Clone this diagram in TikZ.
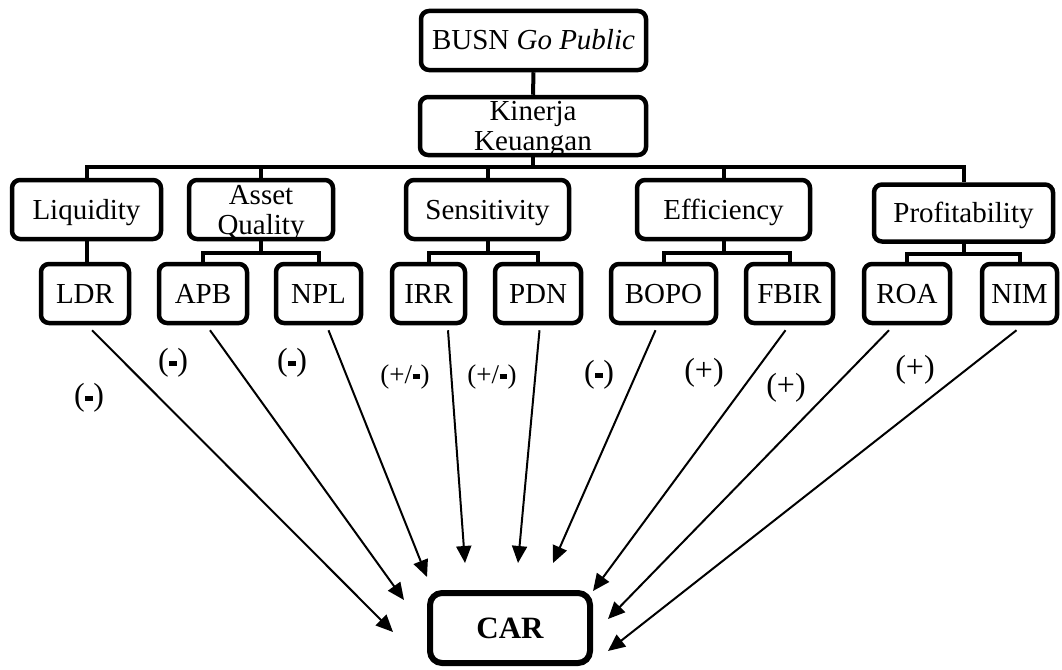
\documentclass[tikz,border=0pt]{standalone}
\usepackage{fontspec}
\setmainfont{Liberation Serif}
\usetikzlibrary{arrows.meta}
\newcommand{\bdash}{\kern0.5pt\rule[4.8pt]{7.5pt}{4.8pt}\kern0.5pt}
\begin{document}
\begin{tikzpicture}[x=1pt,y=-1pt,
  box/.style={draw, line width=4.5pt, rounded corners=8pt, inner sep=0pt, align=center,
              font=\fontsize{29pt}{30pt}\selectfont, text height=19pt, text depth=0pt},
  box2/.style={box, text height=49pt, text depth=0pt},
  carbox/.style={draw, line width=6pt, rounded corners=12pt, inner sep=0pt,
              font=\fontsize{31pt}{31pt}\selectfont\bfseries, text height=21pt, text depth=0pt},
  tree/.style={line width=4pt},
  arr/.style={line width=2pt, -{Triangle[length=17pt,width=15pt]}},
  sign/.style={font=\fontsize{32pt}{32pt}\selectfont, inner sep=0pt},
  signsm/.style={font=\fontsize{27pt}{27pt}\selectfont, inner sep=0pt}]
\useasboundingbox (0,0) rectangle (1062,669);

% top levels
\node[box, minimum width=225pt, minimum height=59pt] (busn) at (533.5,40.5) {BUSN \textit{Go Public}};
\node[box2, minimum width=226pt, minimum height=58pt] (kin) at (533,126) {Kinerja\\Keuangan};

% second level
\node[box, minimum width=149pt, minimum height=59pt] (liq) at (86.5,209.5) {Liquidity};
\node[box2, minimum width=144pt, minimum height=59pt] (aq) at (261,209.5) {Asset\\Quality};
\node[box, minimum width=163pt, minimum height=59pt] (sens) at (487.5,209.5) {Sensitivity};
\node[box, minimum width=173pt, minimum height=59pt] (eff) at (723.5,209.5) {Efficiency};
\node[box, minimum width=179pt, minimum height=57pt] (prof) at (963.5,213) {Profitability};

% third level
\node[box, minimum width=88pt, minimum height=59pt] (ldr) at (85,293.5) {LDR};
\node[box, minimum width=88pt, minimum height=59pt] (apb) at (203,293.5) {APB};
\node[box, minimum width=85pt, minimum height=59pt] (npl) at (318.5,293.5) {NPL};
\node[box, minimum width=73pt, minimum height=59pt] (irr) at (428.5,293.5) {IRR};
\node[box, minimum width=86pt, minimum height=59pt] (pdn) at (538,293.5) {PDN};
\node[box, minimum width=105pt, minimum height=59pt] (bopo) at (663.5,293.5) {BOPO};
\node[box, minimum width=87pt, minimum height=59pt] (fbir) at (789.5,293.5) {FBIR};
\node[box, minimum width=86pt, minimum height=59pt] (roa) at (907,293.5) {ROA};
\node[box, minimum width=75pt, minimum height=59pt] (nim) at (1019.5,293.5) {NIM};

% CAR
\node[carbox, minimum width=160pt, minimum height=70pt] (car) at (510,628) {CAR};

% tree connectors
\coordinate (bus) at (534,167);
\draw[tree] (busn.south) -- (kin.north);
\draw[tree] (kin.south) -- (kin.south |- bus);
\draw[tree] (liq.north) |- (bus) -| (prof.north);
\draw[tree] (aq.north) -- (aq.north |- bus);
\draw[tree] (sens.north) -- (sens.north |- bus);
\draw[tree] (eff.north) -- (eff.north |- bus);
\draw[tree] (liq.south) -- (liq.south |- ldr.north);

\draw[tree] (aq.south) -- ++(0,12) coordinate (aqj);
\draw[tree] (apb.north) |- (aqj) -| (npl.north);
\draw[tree] (sens.south) -- ++(0,12) coordinate (sensj);
\draw[tree] (irr.north) |- (sensj) -| (pdn.north);
\draw[tree] (eff.south) -- ++(0,12) coordinate (effj);
\draw[tree] (bopo.north) |- (effj) -| (fbir.north);
\draw[tree] (prof.south) -- ++(0,10) coordinate (profj);
\draw[tree] (roa.north) |- (profj) -| (nim.north);

% arrow ends near CAR
\coordinate (t1) at (393,632);
\coordinate (t2) at (404,600);
\coordinate (t3) at (427,577);
\coordinate (t4) at (465,563);
\coordinate (t5) at (518,563);
\coordinate (t6) at (553,563);
\coordinate (t7) at (593,591);
\coordinate (t8) at (608,619);
\coordinate (t9) at (608,651);

\draw[arr] ([xshift=7pt,yshift=-5pt]ldr.south) -- (t1);
\draw[arr] ([xshift=7pt,yshift=-5pt]apb.south) -- (t2);
\draw[arr] ([xshift=10pt,yshift=-5pt]npl.south) -- (t3);
\draw[arr] ([xshift=19.5pt,yshift=-5pt]irr.south) -- (t4);
\draw[arr] ([xshift=1.5pt,yshift=-5pt]pdn.south) -- (t5);
\draw[arr] ([xshift=-8pt,yshift=-5pt]bopo.south) -- (t6);
\draw[arr] ([xshift=-4pt,yshift=-5pt]fbir.south) -- (t7);
\draw[arr] ([xshift=-18pt,yshift=-5pt]roa.south) -- (t8);
\draw[arr] ([xshift=-3pt,yshift=-5pt]nim.south) -- (t9);

% signs
\node[sign] (s1) at (89,398) {(\bdash)};
\node[sign] (s2) at (173,363) {(\bdash)};
\node[sign] (s3) at (292,363) {(\bdash)};
\node[signsm] (s4) at (405,377) {(+/\bdash)};
\node[signsm] (s5) at (492,377) {(+/\bdash)};
\node[sign] (s6) at (599,375) {(\bdash)};
\node[sign] (s7) at (704,373) {(+)};
\node[sign] (s8) at (786,388) {(+)};
\node[sign] (s9) at (915,370) {(+)};
\end{tikzpicture}
\end{document}
